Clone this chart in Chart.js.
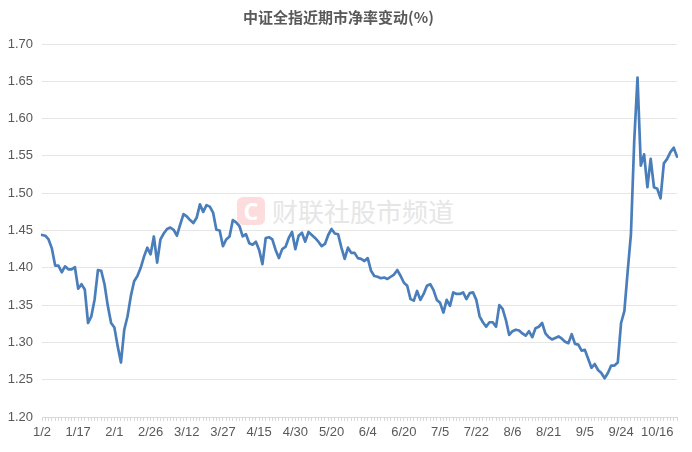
<!DOCTYPE html>
<html>
<head>
<meta charset="utf-8">
<script src="https://cdn.jsdelivr.net/npm/chart.js@4.4.1/dist/chart.umd.min.js"></script>
<style>
html,body{margin:0;padding:0;background:#fff;}
#wrap{position:relative;width:692px;height:452px;overflow:hidden;}
#wm{position:absolute;left:237px;top:197px;height:28px;display:flex;align-items:center;z-index:0;pointer-events:none;}
#logo{width:28px;height:28px;border-radius:6px;background:#fcdcdc;color:#fff;font:bold 23px "Noto Sans",sans-serif;display:flex;align-items:center;justify-content:center;line-height:28px;}
#wmt{margin-left:7px;font:26px "Noto Sans CJK SC",sans-serif;color:#e6e6e6;line-height:28px;white-space:nowrap;}
#c{position:absolute;left:0;top:0;z-index:1;}
</style>
</head>
<body>
<div id="wrap">
  <div id="wm"><div id="logo">C</div><div id="wmt">财联社股市频道</div></div>
  <canvas id="c" width="692" height="452"></canvas>
</div>
<script>
// ---- data (2024 trading days, price-to-book ratio of CSI All Share) ----
const title = '中证全指近期市净率变动(%)';

const janDays = [2,3,4,5,8,9,10,11,12,15,16,17,18,19,22,23,24,25,26,29,30,31];
const janVals = [1.444,1.443,1.438,1.426,1.403,1.403,1.394,1.402,1.398,1.398,1.401,1.372,1.378,1.371,1.326,1.335,1.358,1.397,1.396,1.378,1.349,1.326];

const febDays = [1,2,5,6,7,8,19,20,21,22,23,26,27,28,29];
const febVals = [1.320,1.295,1.273,1.317,1.335,1.362,1.382,1.389,1.400,1.415,1.427,1.418,1.442,1.407,1.438];

const marDays = [1,4,5,6,7,8,11,12,13,14,15,18,19,20,21,22,25,26,27,28,29];
const marVals = [1.446,1.452,1.454,1.451,1.443,1.458,1.472,1.469,1.464,1.460,1.467,1.485,1.475,1.484,1.482,1.474,1.451,1.450,1.429,1.438,1.442];

const aprDays = [1,2,3,8,9,10,11,12,15,16,17,18,19,22,23,24,25,26,29,30];
const aprVals = [1.464,1.461,1.456,1.442,1.445,1.433,1.431,1.435,1.424,1.405,1.440,1.441,1.438,1.424,1.413,1.425,1.428,1.440,1.448,1.425];

const mayDays = [6,7,8,9,10,13,14,15,16,17,20,21,22,23,24,27,28,29,30,31];
const mayVals = [1.443,1.447,1.435,1.448,1.444,1.440,1.435,1.429,1.432,1.444,1.452,1.446,1.445,1.427,1.412,1.427,1.420,1.420,1.413,1.412];

const junDays = [3,4,5,6,7,11,12,13,14,17,18,19,20,21,24,25,26,27,28];
const junVals = [1.409,1.413,1.396,1.389,1.388,1.386,1.387,1.385,1.388,1.391,1.397,1.389,1.380,1.376,1.358,1.356,1.369,1.357,1.365];

const julDays = [1,2,3,4,5,8,9,10,11,12,15,16,17,18,19,22,23,24,25,26,29,30,31];
const julVals = [1.376,1.378,1.370,1.357,1.353,1.340,1.357,1.349,1.367,1.365,1.365,1.367,1.358,1.366,1.367,1.357,1.335,1.327,1.321,1.327,1.327,1.321,1.350];

const augDays = [1,2,5,6,7,8,9,12,13,14,15,16,19,20,21,22,23,26,27,28,29,30];
const augVals = [1.345,1.330,1.310,1.315,1.317,1.316,1.312,1.309,1.315,1.307,1.319,1.321,1.326,1.312,1.307,1.304,1.306,1.308,1.305,1.301,1.299,1.311];

const sepDays = [2,3,4,5,6,9,10,11,12,13,18,19,20,23,24,25,26,27,30];
const sepVals = [1.298,1.297,1.289,1.290,1.278,1.266,1.271,1.263,1.259,1.252,1.259,1.269,1.269,1.273,1.326,1.342,1.395,1.445,1.570];

const octDays = [8,9,10,11,14,15,16,17,18,21,22,23,24];
const octVals = [1.655,1.537,1.552,1.508,1.546,1.508,1.506,1.493,1.540,1.546,1.555,1.561,1.549];

const yTickMin = 1.20, yTickMax = 1.70, yTickStep = 0.05;
const labelEvery = 11;

// ---- build categories / values ----
const monthTable = [
  [1, janDays, janVals],[2, febDays, febVals],[3, marDays, marVals],[4, aprDays, aprVals],
  [5, mayDays, mayVals],[6, junDays, junVals],[7, julDays, julVals],[8, augDays, augVals],
  [9, sepDays, sepVals],[10, octDays, octVals]
];
const categories = [];
const values = [];
monthTable.forEach(([m, days, vals]) => {
  days.forEach((d, i) => { categories.push(m + '/' + d); values.push(vals[i]); });
});

const tickColor = '#595959';
const fontFam = '"Liberation Sans", "Noto Sans CJK SC", sans-serif';

new Chart(document.getElementById('c'), {
  type: 'line',
  data: {
    labels: categories,
    datasets: [{
      data: values,
      borderColor: '#4a7ebb',
      borderWidth: 2.7,
      pointRadius: 0,
      pointHoverRadius: 0,
      tension: 0,
      fill: false,
      borderJoinStyle: 'round',
      borderCapStyle: 'round'
    }]
  },
  options: {
    responsive: false,
    animation: false,
    devicePixelRatio: 1,
    layout: { padding: { left: 0, right: 15, top: 0, bottom: 0 } },
    plugins: {
      legend: { display: false },
      tooltip: { enabled: false },
      title: {
        display: true,
        text: title,
        color: tickColor,
        font: { family: '"Noto Sans CJK SC", sans-serif', size: 15, weight: 'bold', lineHeight: 1.2 },
        padding: { top: 8, bottom: 18 }
      }
    },
    scales: {
      x: {
        type: 'category',
        offset: false,
        grid: { display: true, drawOnChartArea: false, drawTicks: true, tickLength: 4, color: '#d9d9d9' },
        border: { display: true, color: '#d9d9d9', width: 1 },
        ticks: {
          autoSkip: false,
          maxRotation: 0,
          minRotation: 0,
          padding: 4,
          color: tickColor,
          font: { family: fontFam, size: 13 },
          callback: function (val, idx) { return idx % labelEvery === 0 ? this.getLabelForValue(val) : ''; }
        },
        afterFit: (s) => { s.height = 35; }
      },
      y: {
        min: yTickMin,
        max: yTickMax,
        grid: { color: '#e6e6e6', drawTicks: false, lineWidth: 1 },
        border: { display: false },
        ticks: {
          stepSize: yTickStep,
          padding: 9,
          color: tickColor,
          font: { family: fontFam, size: 13 },
          callback: (v) => Number(v).toFixed(2)
        },
        afterFit: (s) => { s.width = 42; }
      }
    }
  }
});
</script>
</body>
</html>
